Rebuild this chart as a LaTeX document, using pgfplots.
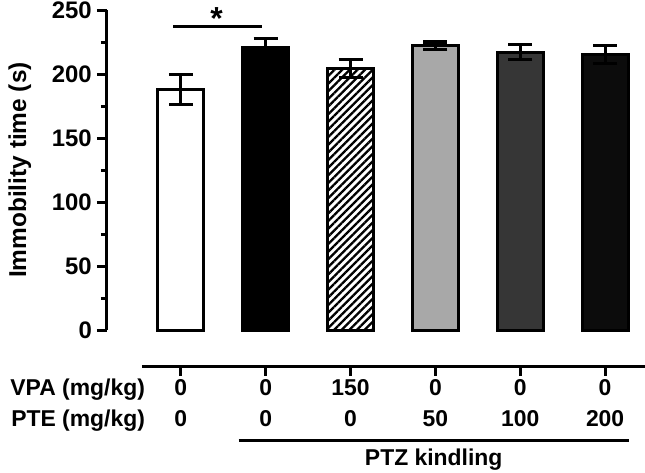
\documentclass[border=0pt]{standalone}
\usepackage{fontspec}
\setmainfont{Liberation Sans}
\usepackage{pgfplots}
\pgfplotsset{compat=1.18}
\usetikzlibrary{patterns.meta}
\definecolor{barA}{HTML}{A8A8A8}
\definecolor{barB}{HTML}{363636}
\definecolor{barC}{HTML}{0C0C0C}
\newcommand{\bigf}{\bfseries\fontsize{24}{28}\selectfont}
\newcommand{\labf}{\bfseries\fontsize{24.5}{28}\selectfont}
\newcommand{\rowf}{\bfseries\fontsize{23}{27}\selectfont}
\newcommand{\starf}{\bfseries\fontsize{32}{36}\selectfont}
\pgfplotsset{mybar/.style={ybar, bar width=46bp, bar shift=0pt, line width=3bp, draw=black,
    error bars/y dir=both, error bars/y explicit,
    error bars/error bar style={line width=3bp, black},
    error bars/error mark options={rotate=90, line width=3bp, black, mark size=12bp}}}
\begin{document}
\begin{tikzpicture}
\begin{axis}[
  name=ax,
  scale only axis, width=538bp, height=320bp,
  xmin=-0.87, xmax=5.47, ymin=0, ymax=250,
  axis x line=none, axis y line*=left,
  ytick={0,50,100,150,200,250}, minor ytick={25,75,125,175,225},
  tick align=outside, major tick length=10bp, minor tick length=6bp,
  every tick/.style={line width=3bp, black},
  axis line style={line width=3bp, black},
  /pgf/number format/assume math mode=true,
  yticklabel style={font=\bigf, inner sep=2bp, xshift=-3bp},
  ylabel={Immobility time (s)},
  ylabel style={font=\labf, at={(axis description cs:-0.162,0.5)}, anchor=center},
  clip=false,
]
\addplot[mybar, fill=white] coordinates {(0,188) +- (0,12)};
\addplot[mybar, fill=black] coordinates {(1,221) +- (0,7)};
\addplot[mybar, pattern={Lines[angle=45, distance=5.4bp, line width=2.3bp]}, pattern color=black] coordinates {(2,204) +- (0,7)};
\addplot[mybar, fill=barA] coordinates {(3,222) +- (0,3)};
\addplot[mybar, fill=barB] coordinates {(4,217) +- (0,6)};
\addplot[mybar, fill=barC] coordinates {(5,215) +- (0,7)};

% significance
\draw[line width=3bp] (axis cs:-0.09,237) -- (axis cs:0.96,237);
\node[font=\starf] at (axis cs:0.42,243) {*};

% category rows
\draw[line width=3bp] (axis cs:-0.46,-28.9) -- (axis cs:5.5,-28.9);
\pgfplotsinvokeforeach{0,1,2,3,4,5}{\draw[line width=3bp] (axis cs:#1,-28.9) -- (axis cs:#1,-36);}
\node[font=\rowf, anchor=base east, inner sep=0pt] at (axis cs:-0.42,-51.3) {VPA (mg/kg)};
\node[font=\rowf, anchor=base east, inner sep=0pt] at (axis cs:-0.42,-75.5) {PTE (mg/kg)};
\node[font=\rowf, anchor=base] at (axis cs:0,-51.3) {0};
\node[font=\rowf, anchor=base] at (axis cs:1,-51.3) {0};
\node[font=\rowf, anchor=base] at (axis cs:2,-51.3) {150};
\node[font=\rowf, anchor=base] at (axis cs:3,-51.3) {0};
\node[font=\rowf, anchor=base] at (axis cs:4,-51.3) {0};
\node[font=\rowf, anchor=base] at (axis cs:5,-51.3) {0};
\node[font=\rowf, anchor=base] at (axis cs:0,-75.5) {0};
\node[font=\rowf, anchor=base] at (axis cs:1,-75.5) {0};
\node[font=\rowf, anchor=base] at (axis cs:2,-75.5) {0};
\node[font=\rowf, anchor=base] at (axis cs:3,-75.5) {50};
\node[font=\rowf, anchor=base] at (axis cs:4,-75.5) {100};
\node[font=\rowf, anchor=base] at (axis cs:5,-75.5) {200};
\draw[line width=3bp] (axis cs:0.68,-86.7) -- (axis cs:5.28,-86.7);
\node[font=\rowf, anchor=base] at (axis cs:2.98,-105.5) {PTZ kindling};
\end{axis}
\pgfresetboundingbox
\useasboundingbox ([xshift=-107bp,yshift=-143bp]ax.south west) rectangle ([yshift=10bp]ax.north east);
\end{tikzpicture}
\end{document}
